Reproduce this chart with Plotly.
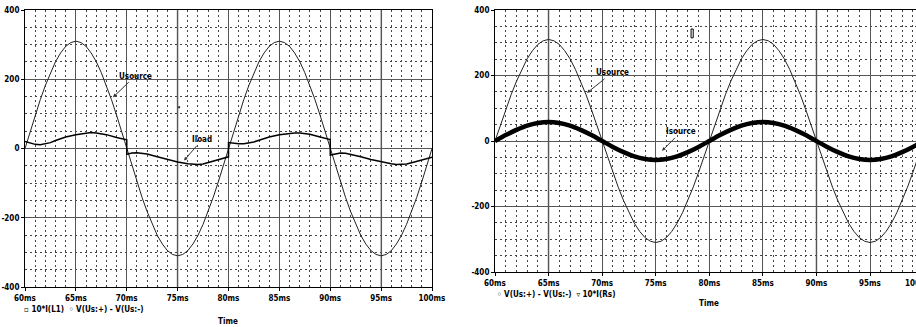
import plotly.graph_objects as go

W, H = 916, 327

# ---------------- data ----------------
time_u = [60 + 0.5 * i for i in range(81)]  # ms
usource = [0, 48, 96, 141, 182, 219, 251, 276, 295, 306, 310, 306, 295, 276, 251, 219, 182, 141, 96, 48,
           0, -48, -96, -141, -182, -219, -251, -276, -295, -306, -310, -306, -295, -276, -251, -219, -182, -141, -96, -48,
           0, 48, 96, 141, 182, 219, 251, 276, 295, 306, 310, 306, 295, 276, 251, 219, 182, 141, 96, 48,
           0, -48, -96, -141, -182, -219, -251, -276, -295, -306, -310, -306, -295, -276, -251, -219, -182, -141, -96, -48,
           0]

iload_t = [60, 60.5, 61, 61.5, 62, 62.5, 63, 63.5, 64, 65, 66, 66.5, 67, 68, 69, 70,
           70, 70.5, 71, 71.5, 72, 73, 74, 75, 76, 76.5, 77, 77.5, 78, 79, 80,
           80, 80.5, 81, 81.5, 82, 82.5, 83, 83.5, 84, 85, 86, 86.5, 87, 88, 89, 90,
           90, 90.5, 91, 91.5, 92, 93, 94, 95, 96, 96.5, 97, 97.5, 98, 99, 100]
iload_v = [20, 15, 12, 11, 13, 17, 23, 29, 33, 40, 45, 46, 45, 40, 32, 25,
           -17, -13, -12, -13, -16, -24, -32, -39, -44, -46, -46, -45, -41, -32, -24,
           17, 15, 14, 14, 16, 19, 24, 29, 33, 40, 44, 45, 45, 41, 33, 26,
           -19, -15, -13, -14, -17, -24, -32, -39, -44, -46, -46, -45, -41, -33, -25]

time_i = [60 + i for i in range(41)]
isource = [0, 18, 34, 47, 55, 58, 55, 47, 34, 18, 0, -18, -34, -47, -55, -58, -55, -47, -34, -18,
           0, 18, 34, 47, 55, 58, 55, 47, 34, 18, 0, -18, -34, -47, -55, -58, -55, -47, -34, -18, 0]

x_ticks = [60, 65, 70, 75, 80, 85, 90, 95, 100]
x_labels = ["60ms", "65ms", "70ms", "75ms", "80ms", "85ms", "90ms", "95ms", "100ms"]
y_ticks = [-400, -200, 0, 200, 400]
y_labels = ["-400", "-200", "0", "200", "400"]

FONT = "DejaVu Sans Condensed, Liberation Sans Narrow, DejaVu Sans, sans-serif"
FS = 8

fig = go.Figure()

fig.add_trace(go.Scatter(x=time_u, y=usource, mode="lines", line=dict(color="#222", width=1),
                         xaxis="x", yaxis="y", showlegend=False))
fig.add_trace(go.Scatter(x=iload_t, y=iload_v, mode="lines", line=dict(color="#000", width=1.5),
                         xaxis="x", yaxis="y", showlegend=False))
fig.add_trace(go.Scatter(x=time_u, y=usource, mode="lines", line=dict(color="#222", width=1),
                         xaxis="x2", yaxis="y2", showlegend=False))
fig.add_trace(go.Scatter(x=time_i, y=isource, mode="lines", line=dict(color="#000", width=4.5, shape="spline"),
                         xaxis="x2", yaxis="y2", showlegend=False))


def px(x):
    return x / W


def py(y):
    return (H - y) / H


tfont = dict(family=FONT, size=FS, color="#000", weight="bold")

common_x = dict(tickvals=x_ticks, ticktext=x_labels, showline=True, linecolor="#000", linewidth=1,
                ticks="outside", ticklen=3, tickcolor="#000", showgrid=True, gridcolor="#555", gridwidth=1,
                zeroline=False, automargin=False,
                minor=dict(tick0=60, dtick=1, showgrid=True, gridcolor="#444", griddash="2px,3px", gridwidth=1),
                tickfont=tfont)
common_y = dict(tickvals=y_ticks, ticktext=y_labels, range=[-400, 400], showline=True, linecolor="#000",
                linewidth=1, ticks="outside", ticklen=3, tickcolor="#000", showgrid=True, gridcolor="#555",
                gridwidth=1, zeroline=False, automargin=False,
                minor=dict(tick0=0, dtick=50, showgrid=True, gridcolor="#444", griddash="2px,3px", gridwidth=1),
                tickfont=tfont)

# left panel: x 25..432, y 10..287 ; right panel: x 495..(924), y 10..272
right_end = 60 + (W - 495) / (375 / 35)

fig.update_layout(
    width=W, height=H, margin=dict(l=0, r=0, t=0, b=0, autoexpand=False),
    paper_bgcolor="white", plot_bgcolor="white",
    font=dict(family=FONT, size=FS, color="#000"),
    xaxis=dict(domain=[px(25), px(432)], range=[60, 100], anchor="y", mirror=True, **common_x),
    yaxis=dict(domain=[py(287), py(10)], anchor="x", mirror=True, **common_y),
    xaxis2=dict(domain=[px(495), 1.0], range=[60, right_end], anchor="y2", mirror=True, **common_x),
    yaxis2=dict(domain=[py(272), py(10)], anchor="x2", mirror=False, **common_y),
)

shapes = []
for xv in [75, 95]:
    shapes.append(dict(type="line", xref="x", yref="y", x0=xv, x1=xv, y0=-400, y1=400,
                       line=dict(color="#b5b5b5", width=2), layer="below"))
for xv in [65, 90]:
    shapes.append(dict(type="line", xref="x2", yref="y2", x0=xv, x1=xv, y0=-400, y1=400,
                       line=dict(color="#b5b5b5", width=2), layer="below"))
shapes.append(dict(type="rect", xref="x2", yref="y2", x0=78.3, x1=78.5, y0=315, y1=342,
                   line=dict(color="#000", width=1)))
shapes.append(dict(type="rect", xref="x", yref="y", x0=75.1, x1=75.2, y0=117, y1=121,
                   line=dict(color="#333", width=1), fillcolor="#333"))
fig.update_layout(shapes=shapes)

afont = tfont
ann = [
    dict(x=68.65, y=148, xref="x", yref="y", text="Usource", ax=22, ay=-21, showarrow=True,
         arrowhead=2, arrowsize=0.7, arrowwidth=1, arrowcolor="#333", font=afont),
    dict(x=75.63, y=-35, xref="x", yref="y", text="Iload", ax=18, ay=-21, showarrow=True,
         arrowhead=2, arrowsize=0.7, arrowwidth=1, arrowcolor="#333", font=afont),
    dict(x=68.59, y=147, xref="x2", yref="y2", text="Usource", ax=25, ay=-20, showarrow=True,
         arrowhead=2, arrowsize=0.7, arrowwidth=1, arrowcolor="#333", font=afont),
    dict(x=75.59, y=-30, xref="x2", yref="y2", text="Isource", ax=19, ay=-19, showarrow=True,
         arrowhead=2, arrowsize=0.7, arrowwidth=1, arrowcolor="#333", font=afont),
    dict(x=px(22), y=py(309), xref="paper", yref="paper", xanchor="left", yanchor="middle",
         text="\u25ab 10*I(L1)  \u25e6 V(Us:+) - V(Us:-)", showarrow=False, font=afont),
    dict(x=px(228), y=py(321), xref="paper", yref="paper", xanchor="center", yanchor="middle",
         text="Time", showarrow=False, font=afont),
    dict(x=px(495), y=py(294), xref="paper", yref="paper", xanchor="left", yanchor="middle",
         text="\u25e6 V(Us:+) - V(Us:-)  \u25bf 10*I(Rs)", showarrow=False, font=afont),
    dict(x=px(709), y=py(303), xref="paper", yref="paper", xanchor="center", yanchor="middle",
         text="Time", showarrow=False, font=afont),
    dict(x=px(919), y=py(283), xref="paper", yref="paper", xanchor="center", yanchor="middle",
         text="100ms", showarrow=False, font=afont),
]
fig.update_layout(annotations=ann)

fig.write_html("out.html", config={"displayModeBar": False},
               post_script="document.body.style.margin='0';document.body.style.overflow='hidden';")
